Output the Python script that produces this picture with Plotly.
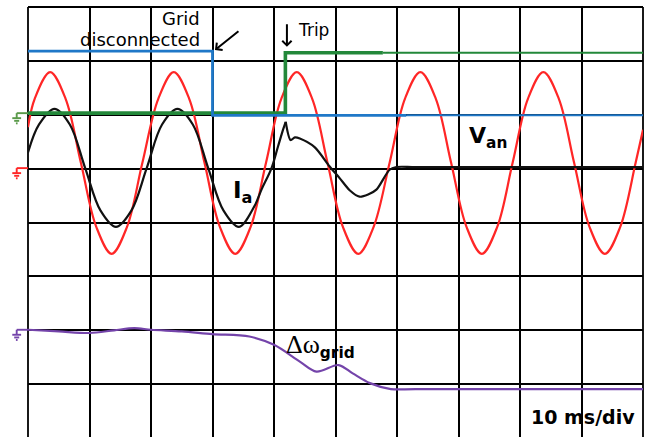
import plotly.graph_objects as go

# ---------------- data (time in divisions of 10 ms, level in divisions) ----------------
van_t = [0.00, 0.11, 0.36, 0.61, 0.86, 1.11, 1.36, 1.61, 1.86, 2.12, 2.37, 2.62, 2.87, 3.12,
         3.37, 3.62, 3.87, 4.12, 4.37, 4.62, 4.87, 5.12, 5.37, 5.62, 5.88, 6.13, 6.38, 6.63,
         6.88, 7.13, 7.38, 7.63, 7.88, 8.13, 8.38, 8.63, 8.88, 9.13, 9.38, 9.63, 9.88, 10.00]
van_v = [5.77, 6.30, 6.79, 6.30, 5.11, 3.92, 3.42, 3.92, 5.11, 6.30, 6.79, 6.30, 5.11, 3.92,
         3.42, 3.92, 5.11, 6.30, 6.79, 6.30, 5.11, 3.92, 3.42, 3.92, 5.11, 6.30, 6.79, 6.30,
         5.11, 3.92, 3.42, 3.92, 5.11, 6.30, 6.79, 6.30, 5.11, 3.92, 3.42, 3.92, 5.11, 5.72]

ia_pre_t = [0.00, 0.18, 0.43, 0.68, 0.93, 1.18, 1.43, 1.68, 1.93, 2.18, 2.43, 2.68, 2.93,
            3.18, 3.43, 3.68, 3.80, 3.96, 4.065, 4.146, 4.19]
ia_pre_v = [5.30, 5.82, 6.11, 5.82, 5.01, 4.22, 3.92, 4.22, 5.01, 5.82, 6.11, 5.82, 5.01,
            4.22, 3.92, 4.30, 4.62, 5.01, 5.41, 5.72, 5.87]
ia_post_t = [4.19, 4.27, 4.34, 4.42, 4.66, 4.905, 5.07, 5.23, 5.39, 5.53, 5.665, 5.88, 5.99, 6.30, 10.00]
ia_post_v = [5.87, 5.53, 5.58, 5.56, 5.40, 5.04, 4.82, 4.60, 4.48, 4.52, 4.61, 4.98, 5.03, 5.03, 5.03]

grid_t = [0.00, 3.00, 3.00, 6.15]
grid_v = [7.18, 7.18, 5.99, 5.99]
grid_t2 = [6.15, 10.00]
grid_v2 = [5.99, 5.99]

trip_t = [0.00, 4.185, 4.185, 5.77]
trip_v = [6.03, 6.03, 7.15, 7.15]
trip_t2 = [5.77, 10.00]
trip_v2 = [7.15, 7.15]

dw_t = [0.00, 0.50, 1.00, 1.40, 1.73, 2.00, 2.50, 3.00, 3.60, 4.00, 4.42, 4.69, 5.05, 5.28, 5.56, 5.90, 6.30, 10.00]
dw_v = [2.01, 1.98, 1.95, 2.00, 2.04, 2.01, 1.98, 1.93, 1.885, 1.73, 1.42, 1.234, 1.355, 1.20, 1.02, 0.91, 0.91, 0.91]

ground_levels = {"green": 6.03, "red": 5.01, "purple": 2.01}

# ---------------- styling ----------------
RED = "#ff2626"
BLACK = "#111111"
BLUE = "#1f78c8"
GREEN = "#23883a"
PURPLE = "#7444aa"
Y0, Y1 = 0.02, 8.0
L, T, W, H = 28, 7, 615, 430

fig = go.Figure()
fig.add_trace(go.Scatter(x=van_t, y=van_v, mode="lines", line=dict(color=RED, width=2.2, shape="spline", smoothing=1.0)))
fig.add_trace(go.Scatter(x=ia_pre_t, y=ia_pre_v, mode="lines", line=dict(color=BLACK, width=2.2, shape="spline", smoothing=1.0)))
fig.add_trace(go.Scatter(x=ia_post_t, y=ia_post_v, mode="lines", line=dict(color=BLACK, width=2.2, shape="spline", smoothing=0.8)))
fig.add_trace(go.Scatter(x=dw_t, y=dw_v, mode="lines", line=dict(color=PURPLE, width=2.2, shape="spline", smoothing=0.9)))
fig.add_trace(go.Scatter(x=trip_t, y=trip_v, mode="lines", line=dict(color=GREEN, width=3.6)))
fig.add_trace(go.Scatter(x=trip_t2, y=trip_v2, mode="lines", line=dict(color=GREEN, width=2)))
fig.add_trace(go.Scatter(x=grid_t, y=grid_v, mode="lines", line=dict(color=BLUE, width=2.8)))
fig.add_trace(go.Scatter(x=grid_t2, y=grid_v2, mode="lines", line=dict(color=BLUE, width=2)))


def pxx(px):
    return (px - L) / W


def level_py(v):
    return T + (Y1 - v) / (Y1 - Y0) * H


def pyy(py):
    return (T + H - py) / H


shapes = []
# frame (left, top, right)
for x0, y0, x1, y1 in [(0, -0.02, 0, 1), (0, 1, 1, 1), (1, -0.02, 1, 1)]:
    shapes.append(dict(type="line", xref="paper", yref="paper", x0=x0, y0=y0, x1=x1, y1=y1,
                       line=dict(color="black", width=1.8), layer="below"))

gcol = {"green": "#5a9a4a", "red": RED, "purple": PURPLE}
for name, lev in ground_levels.items():
    p0 = level_py(lev)
    c = gcol[name]
    segs = [(16.7, p0, 28, p0), (16.7, p0, 16.7, p0 + 5),
            (12.3, p0 + 5, 21.1, p0 + 5), (14.2, p0 + 7.7, 19.2, p0 + 7.7), (15.9, p0 + 10.2, 17.6, p0 + 10.2)]
    for a, b, cc, d in segs:
        shapes.append(dict(type="line", xref="paper", yref="paper", x0=pxx(a), y0=pyy(b), x1=pxx(cc), y1=pyy(d),
                           line=dict(color=c, width=1.9)))

ann = []
TXT = "DejaVu Sans"
ann.append(dict(x=2.83, y=7.79, xref="x", yref="y", text="Grid", showarrow=False, xanchor="right", yanchor="middle",
                font=dict(family=TXT, size=18, color="black")))
ann.append(dict(x=2.83, y=7.39, xref="x", yref="y", text="disconnected", showarrow=False, xanchor="right", yanchor="middle",
                font=dict(family=TXT, size=18, color="black")))
ann.append(dict(x=4.36, y=7.57, xref="x", yref="y", text="Trip", showarrow=False, xanchor="left", yanchor="middle",
                font=dict(family=TXT, size=17, color="black")))
ann.append(dict(x=3.04, y=7.20, xref="x", yref="y", text="", showarrow=True, ax=25, ay=-20,
                arrowhead=4, arrowsize=0.9, arrowwidth=2, arrowcolor="black", standoff=0))
ann.append(dict(x=4.21, y=7.26, xref="x", yref="y", text="", showarrow=True, ax=0, ay=-24,
                arrowhead=4, arrowsize=0.9, arrowwidth=2, arrowcolor="black", standoff=0))
ann.append(dict(x=7.14, y=5.58, xref="x", yref="y", text="<b>V<sub>an</sub></b>", showarrow=False,
                xanchor="left", yanchor="middle", font=dict(family=TXT, size=22, color="black")))
ann.append(dict(x=3.30, y=4.56, xref="x", yref="y", text="<b>I<sub>a</sub></b>", showarrow=False,
                xanchor="left", yanchor="middle", font=dict(family=TXT, size=23, color="black")))
ann.append(dict(x=4.17, y=1.70, xref="x", yref="y",
                text="<span style='font-family:Liberation Serif;font-size:26px'>Δω</span><b><sub>grid</sub></b>",
                showarrow=False, xanchor="left", yanchor="middle", font=dict(family=TXT, size=22, color="black")))
ann.append(dict(x=9.91, y=0.39, xref="x", yref="y", text="<b>10 ms/div</b>", showarrow=False,
                xanchor="right", yanchor="middle", font=dict(family=TXT, size=19, color="black")))

fig.update_layout(
    width=650, height=437,
    margin=dict(l=L, r=650 - L - W, t=T, b=437 - T - H, pad=0),
    paper_bgcolor="white", plot_bgcolor="white",
    showlegend=False,
    shapes=shapes, annotations=ann,
    xaxis=dict(range=[0, 10], dtick=1, tick0=0, showgrid=True, gridcolor="black", gridwidth=1.8,
               showticklabels=False, ticks="", zeroline=False, showline=False, fixedrange=True),
    yaxis=dict(range=[Y0, Y1], dtick=1, tick0=0, showgrid=True, gridcolor="black", gridwidth=1.8,
               showticklabels=False, ticks="", zeroline=False, showline=False, fixedrange=True),
)

fig.write_html("out.html")
